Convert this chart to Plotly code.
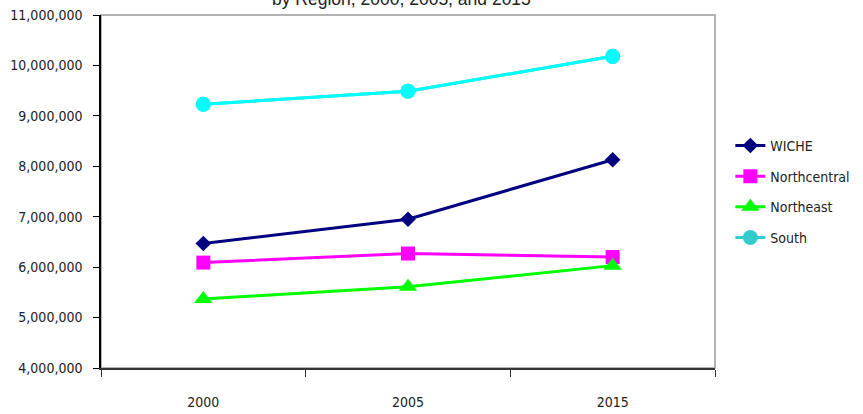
import plotly.graph_objects as go

# Enrollment by region for the three projection years
years = ["2000", "2005", "2015"]
wiche = [6470000, 6950000, 8130000]
northcentral = [6090000, 6270000, 6200000]
northeast = [5370000, 5610000, 6030000]
south = [9230000, 9490000, 10180000]

y_ticks = [4000000, 5000000, 6000000, 7000000, 8000000, 9000000, 10000000, 11000000]

NARROW = "DejaVu Sans Condensed, Liberation Sans Narrow, sans-serif"

fig = go.Figure()

series = [
    ("WICHE", wiche, "#000080", "diamond", 12),
    ("Northcentral", northcentral, "#FF00FF", "square", 14),
    ("Northeast", northeast, "#00FF00", "triangle-up", 16),
]
for i, (name, vals, color, symbol, size) in enumerate(series):
    fig.add_trace(go.Scatter(
        x=years, y=vals, name=name, mode="lines+markers",
        legendgroup=name, legendrank=i + 1,
        line=dict(color=color, width=3),
        marker=dict(symbol=symbol, size=size, color=color, line=dict(width=0)),
    ))

# South: teal legend swatch, drawn over by the cyan series line
fig.add_trace(go.Scatter(
    x=years, y=south, name="South", mode="lines+markers",
    legendgroup="South", legendrank=4,
    line=dict(color="#33CCCC", width=3),
    marker=dict(symbol="circle", size=15, color="#33CCCC", line=dict(width=0)),
))
fig.add_trace(go.Scatter(
    x=years, y=south, name="South", mode="lines+markers",
    showlegend=False, hoverinfo="skip",
    line=dict(color="#00FFFF", width=3),
    marker=dict(symbol="circle", size=15, color="#00FFFF", line=dict(width=0)),
))

fig.update_layout(
    width=863, height=414,
    margin=dict(l=101, r=148, t=15, b=46, autoexpand=False),
    paper_bgcolor="white", plot_bgcolor="white",
    font=dict(family=NARROW, size=14, color="#222222"),
    showlegend=True,
    legend=dict(
        x=1.025, xanchor="left", y=0.499, yanchor="middle",
        font=dict(family=NARROW, size=14, color="#222222"),
        tracegroupgap=9.5, itemwidth=30,
        bgcolor="rgba(0,0,0,0)",
    ),
    xaxis=dict(
        type="category", range=[-0.5, 2.5], automargin=False,
        showgrid=False, zeroline=False,
        showline=True, linecolor="#333333", linewidth=1.5,
        ticks="outside", ticklen=7, tickcolor="#333333", tickwidth=1,
        tickson="boundaries", ticklabelstandoff=20,
    ),
    yaxis=dict(
        range=[4000000, 11000000], tickvals=y_ticks, tickformat=",",
        automargin=False,
        showgrid=False, zeroline=False,
        showline=True, linecolor="#000000", linewidth=1.5,
        ticks="outside", ticklen=6, tickcolor="#000000", tickwidth=1,
        ticklabelstandoff=8,
    ),
    shapes=[dict(
        type="rect", xref="paper", yref="paper", x0=0, x1=1, y0=0, y1=1,
        line=dict(color="#9a9a9a", width=1.5), layer="below",
    )],
    annotations=[dict(
        text="by Region, 2000, 2005, and 2015",
        xref="paper", yref="paper", x=0.489, y=1.045,
        xanchor="center", yanchor="middle", showarrow=False,
        font=dict(family="Liberation Sans, Arial, sans-serif", size=17.5, color="#222222"),
    )],
)

fig.write_html("out.html")
